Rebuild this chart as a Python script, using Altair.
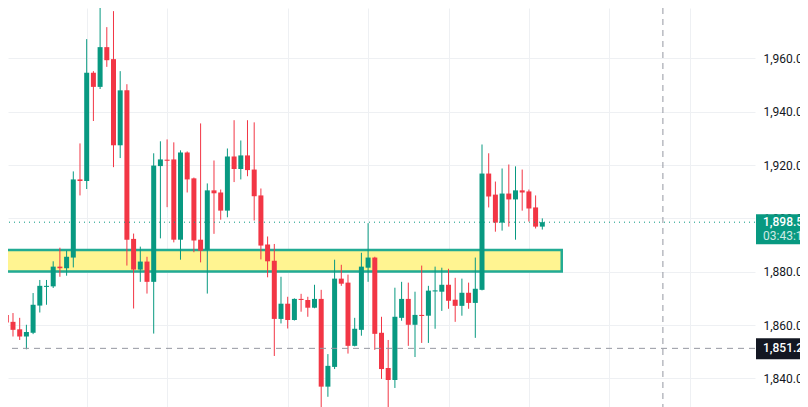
import altair as alt
import pandas as pd

# ---- candle data (index = bar number) ----
opens = [1861.3, 1863.8, 1861.2, 1858.4, 1855.7, 1857.1, 1867.3, 1874.3, 1874.5, 1881.9,
         1881.3, 1885.3, 1914.6, 1914.0, 1954.6, 1949.3, 1964.2, 1959.7, 1927.4, 1948.0,
         1892.3, 1880.8, 1883.8, 1876.2, 1919.6, 1922.0, 1922.1, 1892.0, 1924.7, 1915.0,
         1892.0, 1888.2, 1910.5, 1909.7, 1902.9, 1923.2, 1918.5, 1923.6, 1918.3, 1908.6,
         1890.2, 1884.1, 1862.3, 1868.0, 1861.9, 1869.8, 1869.4, 1866.5, 1869.8, 1836.9,
         1844.3, 1877.4, 1875.9, 1852.2, 1858.2, 1881.5, 1885.3, 1857.1, 1843.9, 1839.4,
         1862.7, 1869.8, 1860.1, 1863.8, 1863.5, 1872.6, 1872.5, 1875.1, 1869.5, 1867.2,
         1872.1, 1868.3, 1873.2, 1916.8, 1908.9, 1898.4, 1909.3, 1907.1, 1910.5, 1910.1,
         1904.1, 1896.9]
highs = [1866.6, 1865.7, 1864.5, 1862.7, 1860.1, 1872.0, 1876.9, 1876.9, 1883.9, 1889.0,
         1887.9, 1917.6, 1928.1, 1967.2, 1955.2, 1981.1, 1971.7, 1977.7, 1955.2, 1950.3,
         1894.3, 1889.4, 1885.6, 1924.4, 1928.9, 1929.6, 1928.5, 1925.5, 1925.1, 1915.3,
         1935.6, 1913.1, 1921.7, 1910.8, 1926.2, 1936.8, 1929.2, 1936.8, 1936.0, 1911.2,
         1893.2, 1890.4, 1878.1, 1870.6, 1870.0, 1871.7, 1870.6, 1875.1, 1873.2, 1849.1,
         1884.5, 1882.6, 1878.9, 1862.7, 1887.1, 1898.2, 1885.6, 1863.1, 1854.4, 1874.0,
         1876.2, 1875.9, 1872.5, 1882.3, 1874.7, 1881.9, 1881.5, 1881.1, 1877.7, 1877.4,
         1875.9, 1885.3, 1927.7, 1924.4, 1913.8, 1918.7, 1920.2, 1919.5, 1918.3, 1910.8,
         1908.6, 1900.0]
lows = [1853.4, 1856.8, 1855.7, 1854.4, 1850.9, 1856.6, 1864.7, 1867.6, 1873.9, 1878.1,
        1878.5, 1881.6, 1908.6, 1911.0, 1936.5, 1948.5, 1956.8, 1919.2, 1922.6, 1882.3,
        1866.2, 1876.2, 1871.8, 1856.8, 1892.5, 1904.2, 1891.0, 1884.5, 1909.7, 1887.3,
        1883.5, 1871.8, 1894.2, 1899.5, 1900.4, 1913.6, 1914.6, 1915.8, 1899.2, 1884.6,
        1877.9, 1848.4, 1860.6, 1858.7, 1861.7, 1865.0, 1863.1, 1866.3, 1829.2, 1833.1,
        1843.5, 1874.7, 1849.3, 1852.0, 1856.0, 1876.2, 1850.7, 1839.8, 1829.2, 1836.4,
        1861.6, 1852.2, 1848.0, 1853.3, 1853.3, 1858.6, 1865.3, 1866.1, 1861.2, 1863.5,
        1866.1, 1855.2, 1873.0, 1904.1, 1895.0, 1895.4, 1896.9, 1892.0, 1902.9, 1898.8,
        1896.2, 1895.8]
closes = [1863.5, 1861.0, 1858.2, 1855.7, 1857.4, 1867.6, 1874.7, 1874.7, 1881.9, 1881.3,
          1885.6, 1914.6, 1914.0, 1954.6, 1949.3, 1964.2, 1959.3, 1927.4, 1948.0, 1892.0,
          1880.8, 1883.8, 1876.2, 1919.8, 1922.1, 1921.6, 1892.0, 1924.7, 1914.6, 1891.7,
          1887.9, 1910.5, 1909.4, 1902.9, 1923.2, 1918.5, 1923.6, 1918.1, 1908.3, 1889.8,
          1883.9, 1862.3, 1868.0, 1861.9, 1869.8, 1869.4, 1866.5, 1869.8, 1836.9, 1844.7,
          1877.4, 1875.5, 1852.2, 1858.6, 1881.9, 1885.3, 1856.7, 1843.5, 1839.4, 1863.1,
          1869.8, 1860.1, 1863.8, 1863.4, 1872.9, 1873.0, 1875.1, 1869.1, 1867.2, 1872.1,
          1868.3, 1873.6, 1916.8, 1908.2, 1898.4, 1909.3, 1907.1, 1910.5, 1909.7, 1903.7,
          1896.9, 1898.56]

# vertical time-grid lines (bar numbers) and price ticks
time_grid = [1, 13, 25, 43, 55, 67, 79, 91, 103]
price_ticks = [1840, 1860, 1880, 1900, 1920, 1940, 1960, 1980]

# support zone drawing
zone_start = [-5.0]
zone_end = [83.9]
zone_low = [1880.08]
zone_high = [1888.14]

last_price = [1898.56]
countdown = ["03:43:15"]
cross_price = [1851.26]
cross_bar = [99]

UP = "#089981"
DOWN = "#f23645"
FONT = "Roboto"

df = pd.DataFrame({"i": list(range(len(opens))), "open": opens, "high": highs,
                   "low": lows, "close": closes})
df["dir"] = ["up" if c >= o else "down" for o, c in zip(opens, closes)]

W, H = 747, 399
xs = alt.Scale(domain=[1.254, 112.746], nice=False, zero=False, padding=0)
ys = alt.Scale(domain=[1829.27, 1978.875], nice=False, zero=False, padding=0)
col = alt.Color("dir:N", scale=alt.Scale(domain=["up", "down"], range=[UP, DOWN]), legend=None)

x_axis = alt.Axis(values=time_grid, grid=True, labels=False, ticks=False, domain=False,
                  title=None, gridColor="#eef0f3", gridWidth=1)
y_axis = alt.Axis(values=price_ticks, orient="right", format=",.2f", grid=True, ticks=False,
                  domain=False, title=None, labelPadding=8, labelFontSize=12,
                  labelColor="#131722", labelFont=FONT, gridColor="#eef0f3", gridWidth=1)

base = alt.Chart(df)

wicks = base.mark_rule(strokeWidth=1, clip=True).encode(
    x=alt.X("i:Q", scale=xs, axis=x_axis),
    y=alt.Y("low:Q", scale=ys, axis=y_axis),
    y2="high:Q",
    color=col,
)
bodies = base.mark_bar(width=5, clip=True).encode(
    x=alt.X("i:Q", scale=xs),
    y=alt.Y("open:Q", scale=ys),
    y2="close:Q",
    color=col,
)

zone_df = pd.DataFrame({"x": zone_start, "x2": zone_end, "lo": zone_low, "hi": zone_high})
zone = alt.Chart(zone_df).mark_rect(fill="#fff491", stroke="#22ab94", strokeWidth=2.5,
                                    clip=True).encode(
    x=alt.X("x:Q", scale=xs), x2="x2:Q",
    y=alt.Y("lo:Q", scale=ys), y2="hi:Q",
)

lp_df = pd.DataFrame({"p": last_price, "t": countdown})
lp_line = alt.Chart(lp_df).mark_rule(color=UP, strokeWidth=1, strokeDash=[1, 4]).encode(
    y=alt.Y("p:Q", scale=ys))

cp_df = pd.DataFrame({"p": cross_price})
cp_line = alt.Chart(cp_df).mark_rule(color="#9598a1", strokeWidth=1, strokeDash=[6, 5]).encode(
    y=alt.Y("p:Q", scale=ys))
cb_df = pd.DataFrame({"b": cross_bar})
cb_line = alt.Chart(cb_df).mark_rule(color="#9598a1", strokeWidth=1, strokeDash=[6, 5]).encode(
    x=alt.X("b:Q", scale=xs))

lp_box = alt.Chart(lp_df).mark_rect(color=UP, clip=False, yOffset=-8, y2Offset=22).encode(
    x=alt.value(W + 1), x2=alt.value(W + 80),
    y=alt.Y("p:Q", scale=ys), y2="p:Q")
lp_text = alt.Chart(lp_df).mark_text(align="left", baseline="middle", color="white",
                                     font=FONT, fontSize=12, fontWeight=500, clip=False).encode(
    x=alt.value(W + 8), y=alt.Y("p:Q", scale=ys), text=alt.Text("p:Q", format=",.2f"))
lp_text2 = alt.Chart(lp_df).mark_text(align="left", baseline="middle", color="white",
                                      opacity=0.8, font=FONT, fontSize=12, dy=14,
                                      clip=False).encode(
    x=alt.value(W + 8), y=alt.Y("p:Q", scale=ys), text="t:N")

cp_box = alt.Chart(cp_df).mark_rect(color="#131722", clip=False, yOffset=-10, y2Offset=11).encode(
    x=alt.value(W + 1), x2=alt.value(W + 80),
    y=alt.Y("p:Q", scale=ys), y2="p:Q")
cp_text = alt.Chart(cp_df).mark_text(align="left", baseline="middle", color="white",
                                     font=FONT, fontSize=12, fontWeight=500, clip=False).encode(
    x=alt.value(W + 8), y=alt.Y("p:Q", scale=ys), text=alt.Text("p:Q", format=",.2f"))

chart = alt.layer(
    zone, wicks, bodies, lp_line, cp_line, cb_line,
    lp_box, lp_text, lp_text2, cp_box, cp_text,
).properties(
    width=W, height=H,
    autosize=alt.AutoSizeParams(type="none"),
    padding={"left": 0, "top": 0, "right": 45, "bottom": 0},
    background="white",
).configure_view(strokeWidth=0)

chart.save("out.html", embed_options={"renderer": "svg", "actions": False})
